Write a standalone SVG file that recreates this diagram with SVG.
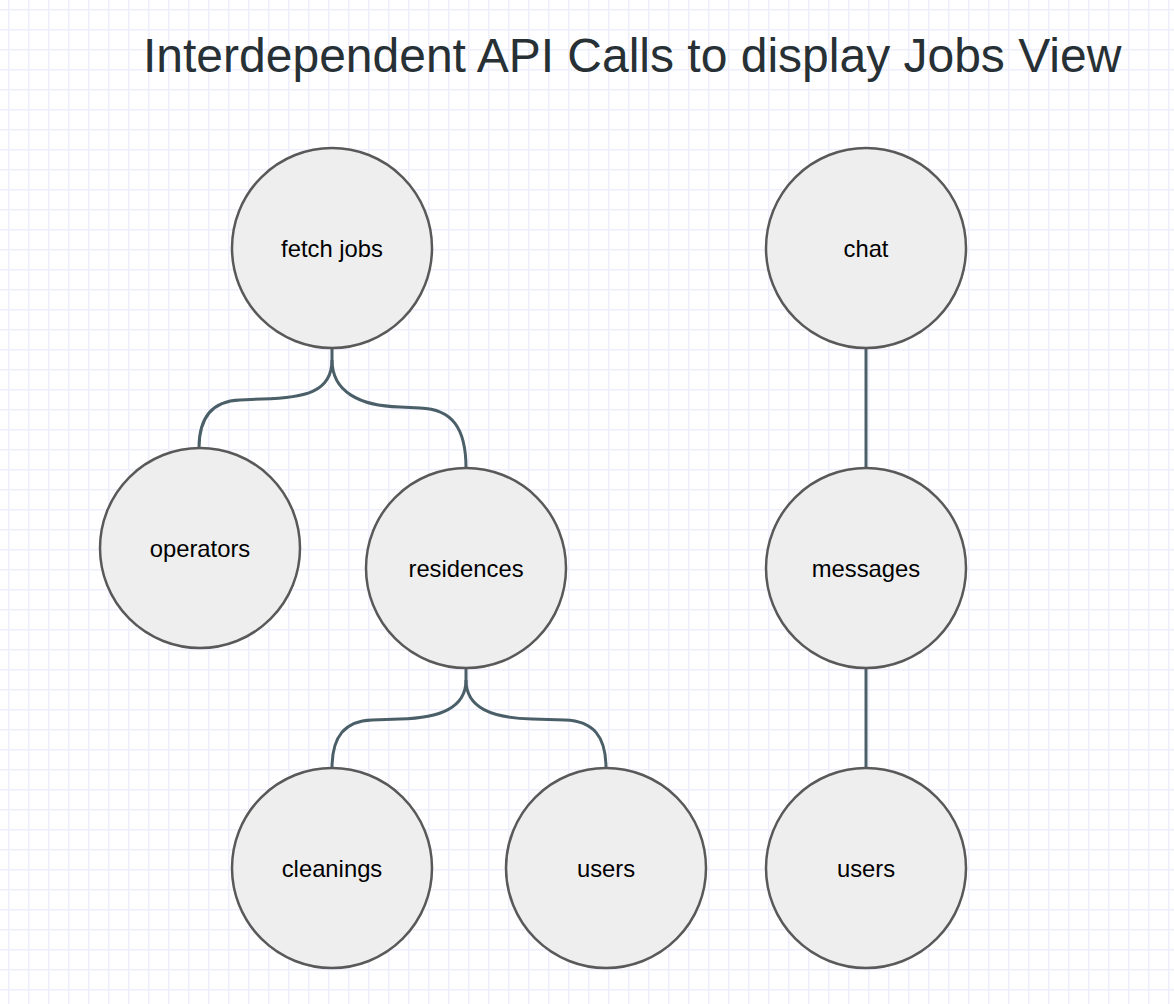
<svg xmlns="http://www.w3.org/2000/svg" width="1174" height="1004" viewBox="0 0 1174 1004">
<style>
.node circle{fill:#eeeeee;stroke:#595959;stroke-width:2.5}
.node text{font-family:"Liberation Sans",Arial,sans-serif;font-size:23.8px;fill:#000;text-anchor:middle;dominant-baseline:central}
.conn path,.conn line{fill:none;stroke:#4b5f69;stroke-width:3}
.title{font-family:"Liberation Sans",Arial,sans-serif;font-size:48px;fill:#273135}
</style>
<defs>
<pattern id="grid" x="8" y="9" width="20" height="20" patternUnits="userSpaceOnUse">
<path d="M0.5,0 V20 M0,0.5 H20" stroke="#eeeefc" stroke-width="2" fill="none"/>
</pattern>
</defs>
<rect width="1174" height="1004" fill="#ffffff"/>
<rect width="1174" height="1004" fill="url(#grid)"/>
<text class="title" x="143" y="72">Interdependent API Calls to display Jobs View</text>
<g id="connectors" class="conn">
<path d="M332,348 L332,360 C332,392 305,398 262,399 L240,400 C212,401 199,418 199,448"/>
<path d="M332,360 C332,392 360,406 400,407 L420,408 C452,409 466,428 466,468"/>
<path d="M466,668 L466,680 C466,708 440,718 400,719 L372,720 C345,721 332,736 332,768"/>
<path d="M466,680 C466,708 492,718 532,719 L565,720 C593,721 606,736 606,768"/>
<line x1="866" y1="348" x2="866" y2="468"/>
<line x1="866" y1="668" x2="866" y2="768"/>
</g>
<g id="fetch-jobs" class="node"><circle cx="332" cy="248" r="100"/><text x="332" y="248">fetch jobs</text></g>
<g id="chat" class="node"><circle cx="866" cy="248" r="100"/><text x="866" y="248">chat</text></g>
<g id="operators" class="node"><circle cx="200" cy="548" r="100"/><text x="200" y="548">operators</text></g>
<g id="residences" class="node"><circle cx="466" cy="568" r="100"/><text x="466" y="568">residences</text></g>
<g id="messages" class="node"><circle cx="866" cy="568" r="100"/><text x="866" y="568">messages</text></g>
<g id="cleanings" class="node"><circle cx="332" cy="868" r="100"/><text x="332" y="868">cleanings</text></g>
<g id="users-1" class="node"><circle cx="606" cy="868" r="100"/><text x="606" y="868">users</text></g>
<g id="users-2" class="node"><circle cx="866" cy="868" r="100"/><text x="866" y="868">users</text></g>
</svg>
